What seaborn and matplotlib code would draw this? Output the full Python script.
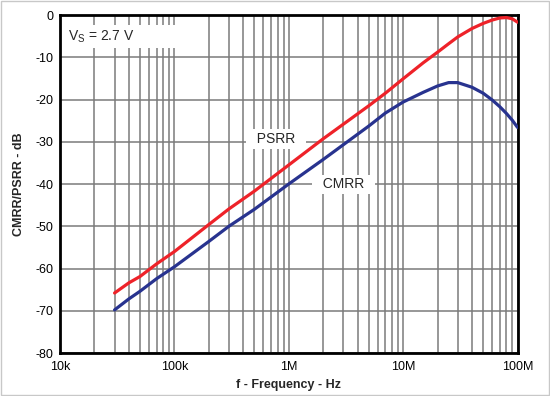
import matplotlib
matplotlib.use("Agg")
import matplotlib.pyplot as plt
import matplotlib.ticker as mticker
from matplotlib.patches import Rectangle
import seaborn as sns
import pandas as pd

# ---- data ----
freq_hz = [30e3, 40e3, 50e3, 70e3, 100e3, 200e3, 300e3, 500e3, 1e6, 2e6, 5e6, 7e6,
           10e6, 15e6, 20e6, 25e6, 30e6, 40e6, 50e6, 60e6, 70e6, 80e6, 90e6, 100e6]
psrr_db = [-65.8, -63.4, -61.9, -58.9, -56.0, -49.6, -45.9, -41.7, -35.5, -29.3, -21.5, -18.5,
           -15.1, -11.3, -8.8, -6.8, -5.2, -3.2, -2.0, -1.2, -0.7, -0.6, -0.9, -1.7]
cmrr_db = [-69.8, -67.2, -65.4, -62.4, -59.6, -53.6, -50.0, -46.0, -40.0, -34.2, -26.3, -23.2,
           -20.6, -18.3, -16.8, -16.0, -16.0, -17.1, -18.5, -20.1, -21.7, -23.3, -24.9, -26.6]
series_names = ["PSRR", "CMRR"]
series_colors = ["#ee2229", "#28338f"]
x_ticks = [1e4, 1e5, 1e6, 1e7, 1e8]
x_tick_labels = ["10k", "100k", "1M", "10M", "100M"]
y_ticks = [-80, -70, -60, -50, -40, -30, -20, -10, 0]

df = pd.concat([
    pd.DataFrame({"f": freq_hz, "dB": psrr_db, "series": "PSRR"}),
    pd.DataFrame({"f": freq_hz, "dB": cmrr_db, "series": "CMRR"}),
])

sns.set_theme(style="white")
plt.rcParams["font.family"] = ["Liberation Sans", "DejaVu Sans"]
plt.rcParams["mathtext.default"] = "regular"

fig = plt.figure(figsize=(5.5, 3.96), dpi=100)
ax = fig.add_axes([60 / 550, 1 - 353 / 396, 457.5 / 550, 338 / 396])

sns.lineplot(data=df, x="f", y="dB", hue="series", hue_order=series_names,
             palette=series_colors, estimator=None, sort=False, linewidth=2.3,
             legend=False, ax=ax, zorder=4)

ax.set_xscale("log")
ax.set_xlim(1e4, 1e8)
ax.set_ylim(-80, 0)
ax.set_xticks(x_ticks)
ax.set_xticklabels(x_tick_labels)
ax.xaxis.set_minor_locator(mticker.LogLocator(base=10, subs=range(2, 10), numticks=20))
ax.xaxis.set_minor_formatter(mticker.NullFormatter())
ax.set_yticks(y_ticks)
ax.set_yticklabels([str(v) for v in y_ticks])

ax.grid(True, which="both", axis="x", color="#7a7a7a", linewidth=1.1)
ax.grid(True, which="major", axis="y", color="#7a7a7a", linewidth=1.1)
ax.set_axisbelow(True)

ax.tick_params(axis="both", which="both", length=0, labelsize=9, colors="black")
ax.tick_params(axis="x", pad=6)
ax.tick_params(axis="y", pad=5)
for sp in ax.spines.values():
    sp.set_color("black")
    sp.set_linewidth(2.0)
    sp.set_visible(True)

ax.set_xlabel("f - Frequency - Hz", fontsize=9, fontweight="bold", labelpad=4)
ax.set_ylabel("CMRR/PSRR - dB", fontsize=9, fontweight="bold", labelpad=7)

# white box behind the supply label
ax.add_patch(Rectangle((0.0, 0.902), 0.254, 0.068, transform=ax.transAxes,
                       facecolor="white", edgecolor="none", zorder=2))
ax.text(0.017, 0.935, r"V$_S$ = 2.7 V", transform=ax.transAxes, fontsize=10,
        ha="left", va="center", zorder=3)

box = dict(boxstyle="square,pad=0.2", facecolor="white", edgecolor="none")
ax.text(7.7e5, -29.3, "  PSRR  ", fontsize=10, ha="center", va="center",
        bbox=box, zorder=3)
ax.text(3.0e6, -40.1, "  CMRR  ", fontsize=10, ha="center", va="center",
        bbox=box, zorder=3)

fig.patches.append(Rectangle((0.002, 0.003), 0.996, 0.994, transform=fig.transFigure,
                             facecolor="none", edgecolor="#c8c8c8", linewidth=1.0))

fig.savefig("out.png", dpi=100, facecolor="white")
